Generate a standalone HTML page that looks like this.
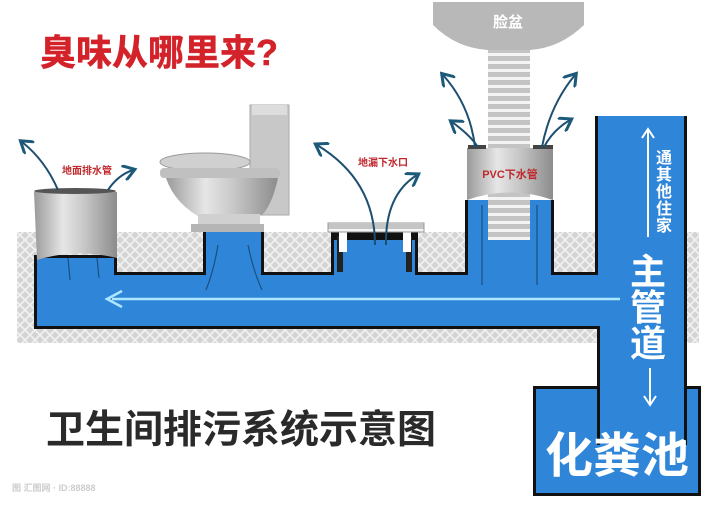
<!DOCTYPE html>
<html><head><meta charset="utf-8"><style>
html,body{margin:0;padding:0;background:#fff;}
svg{display:block;}
text{font-family:"Liberation Sans","Noto Sans CJK SC",sans-serif;font-weight:bold;}
</style></head><body>
<svg width="720" height="506" viewBox="0 0 720 506" xmlns="http://www.w3.org/2000/svg">
<defs>
<pattern id="hatch" width="10" height="10" patternUnits="userSpaceOnUse">
<rect width="10" height="10" fill="#d4d4d4"/>
<path d="M0 5 L5 0 L10 5 L5 10 Z" fill="none" stroke="#f2f2f2" stroke-width="1.6"/>
</pattern>
<linearGradient id="cyl" x1="0" x2="1">
<stop offset="0" stop-color="#9a9a9a"/><stop offset="0.35" stop-color="#e6e6e6"/><stop offset="0.6" stop-color="#c8c8c8"/><stop offset="1" stop-color="#8c8c8c"/>
</linearGradient>
<pattern id="stripe" width="10" height="8" patternUnits="userSpaceOnUse">
<rect width="10" height="8" fill="#f4f4f4"/><rect width="10" height="5" fill="#c4c4c4"/>
</pattern>
<marker id="ah" markerWidth="8" markerHeight="8" refX="5" refY="4" orient="auto"><path d="M0 0 L6 4 L0 8" fill="none" stroke="#1d5a7a" stroke-width="1.5"/></marker>
</defs>

<!-- ground -->
<rect x="17" y="232" width="682" height="111" fill="url(#hatch)"/>

<!-- septic tank -->
<rect x="533" y="386" width="168" height="110" fill="#111"/>
<rect x="536" y="389" width="162" height="104" fill="#2f86d8"/>

<!-- pipe network black outline + blue -->
<path d="M34 255 L34 329 L597 329 L597 445 L687 445 L687 116 L595 116 L595 272 L554 272 L554 200 L465 200 L465 272 L418 272 L418 232 L331 232 L331 272 L264 272 L264 232 L203 232 L203 272 L117 272 L117 255 Z" fill="#111"/>
<path d="M37 258 L37 326 L600 326 L600 445 L684 445 L684 116 L598 116 L598 275 L551 275 L551 200 L468 200 L468 275 L415 275 L415 240 L334 240 L334 275 L261 275 L261 232 L206 232 L206 275 L114 275 L114 258 Z" fill="#2f86d8"/>
<rect x="600" y="436" width="84" height="14" fill="#2f86d8"/>
<!-- floor drain inner walls -->
<rect x="337" y="236" width="6" height="36" fill="#222"/>
<rect x="406" y="236" width="6" height="36" fill="#222"/>
<rect x="339" y="232" width="8" height="20" fill="#fff"/>
<rect x="403" y="232" width="8" height="20" fill="#fff"/>

<!-- flow arrow -->
<line x1="112" y1="299" x2="620" y2="299" stroke="#aee6ff" stroke-width="2.5"/>
<path d="M122 291 L107 299 L122 307" fill="none" stroke="#aee6ff" stroke-width="2.5"/>

<!-- left cylinder -->
<path d="M34 192 Q75 186 117 192 L117 258 Q75 248 37 260 Z" fill="url(#cyl)"/>
<ellipse cx="75" cy="191" rx="41" ry="3" fill="#555"/>

<!-- toilet -->
<rect x="250" y="105" width="39" height="110" fill="#c8c8c8" stroke="#aaa"/>
<rect x="252" y="105" width="35" height="10" fill="#ddd"/>
<ellipse cx="205" cy="162" rx="45" ry="9" fill="#d0d0d0" stroke="#999"/>
<rect x="160" y="168" width="120" height="10" rx="4" fill="#c0c0c0"/>
<path d="M166 178 L278 178 Q272 205 262 215 L205 220 Q175 205 166 178 Z" fill="url(#cyl)"/>
<rect x="191" y="224" width="73" height="8" fill="#b5b5b5"/>
<rect x="198" y="214" width="62" height="10" fill="#d0d0d0"/>

<!-- floor drain grate -->
<rect x="328" y="223" width="96" height="9" fill="url(#stripe)" stroke="#999"/>

<!-- basin -->
<path d="M433 2 L584 2 L584 25 Q560 48 530 50 L488 50 Q456 48 433 25 Z" fill="#b8b8b8"/>
<rect x="488" y="50" width="42" height="190" fill="url(#stripe)"/>
<text x="508" y="27" font-size="15" fill="#fff" text-anchor="middle">脸盆</text>
<!-- PVC cylinder -->
<path d="M467 148 L553 148 L553 200 Q510 185 467 200 Z" fill="url(#cyl)"/>
<rect x="468" y="145" width="18" height="4" fill="#444"/><rect x="533" y="145" width="20" height="4" fill="#444"/>
<text x="510" y="178" font-size="11" fill="#c0282d" text-anchor="middle" font-weight="normal">PVC下水管</text>

<!-- odor arrows -->
<g fill="none" stroke="#1d4f70" stroke-width="2" marker-end="url(#ah)">
<path d="M58 190 Q45 160 22 142"/>
<path d="M108 190 Q118 175 133 170"/>
<path d="M375 245 Q375 180 317 145"/>
<path d="M386 245 Q385 195 417 175"/>
<path d="M475 147 Q470 105 443 75"/>
<path d="M478 147 Q470 135 452 122"/>
<path d="M542 147 Q550 105 575 75"/>
<path d="M544 147 Q553 130 570 120"/>
</g>
<!-- water streaks -->
<g fill="none" stroke="#1a4f80" stroke-width="1.2">
<path d="M218 245 Q214 270 206 290"/><path d="M248 245 Q253 270 262 290"/>
<path d="M68 258 L70 280"/><path d="M97 258 L99 278"/>
<path d="M482 205 L482 285"/><path d="M537 205 L537 285"/>
</g>

<!-- labels -->
<text x="87" y="174" font-size="10" fill="#c0282d" text-anchor="middle" font-weight="normal">地面排水管</text>
<text x="383" y="166" font-size="10" fill="#c0282d" text-anchor="middle" font-weight="normal">地漏下水口</text>

<!-- main pipe text -->
<line x1="648" y1="130" x2="648" y2="237" stroke="#fff" stroke-width="2"/>
<path d="M642 138 L648 129 L654 138" fill="none" stroke="#fff" stroke-width="2"/>
<g font-size="16" fill="#fff" font-weight="normal" text-anchor="middle">
<text x="664" y="163">通</text><text x="664" y="180">其</text><text x="664" y="197">他</text><text x="664" y="214">住</text><text x="664" y="231">家</text>
</g>
<g font-size="36" fill="#fff" text-anchor="middle">
<text x="648" y="284">主</text><text x="648" y="320">管</text><text x="648" y="356">道</text>
</g>
<line x1="650" y1="368" x2="650" y2="404" stroke="#fff" stroke-width="2"/>
<path d="M644 396 L650 405 L656 396" fill="none" stroke="#fff" stroke-width="2"/>
<text x="617" y="472" font-size="48" fill="#fff" text-anchor="middle">化粪池</text>

<!-- titles -->
<text x="40" y="65" font-size="36" fill="#d3222a" stroke="#d3222a" stroke-width="0.5">臭味从哪里来?</text>
<text x="46" y="443" font-size="39" fill="#2a2a2a">卫生间排污系统示意图</text>
<text x="12" y="491" font-size="9" fill="#ccc" font-weight="normal">图 汇图网 · ID:88888</text>
</svg>
</body></html>
